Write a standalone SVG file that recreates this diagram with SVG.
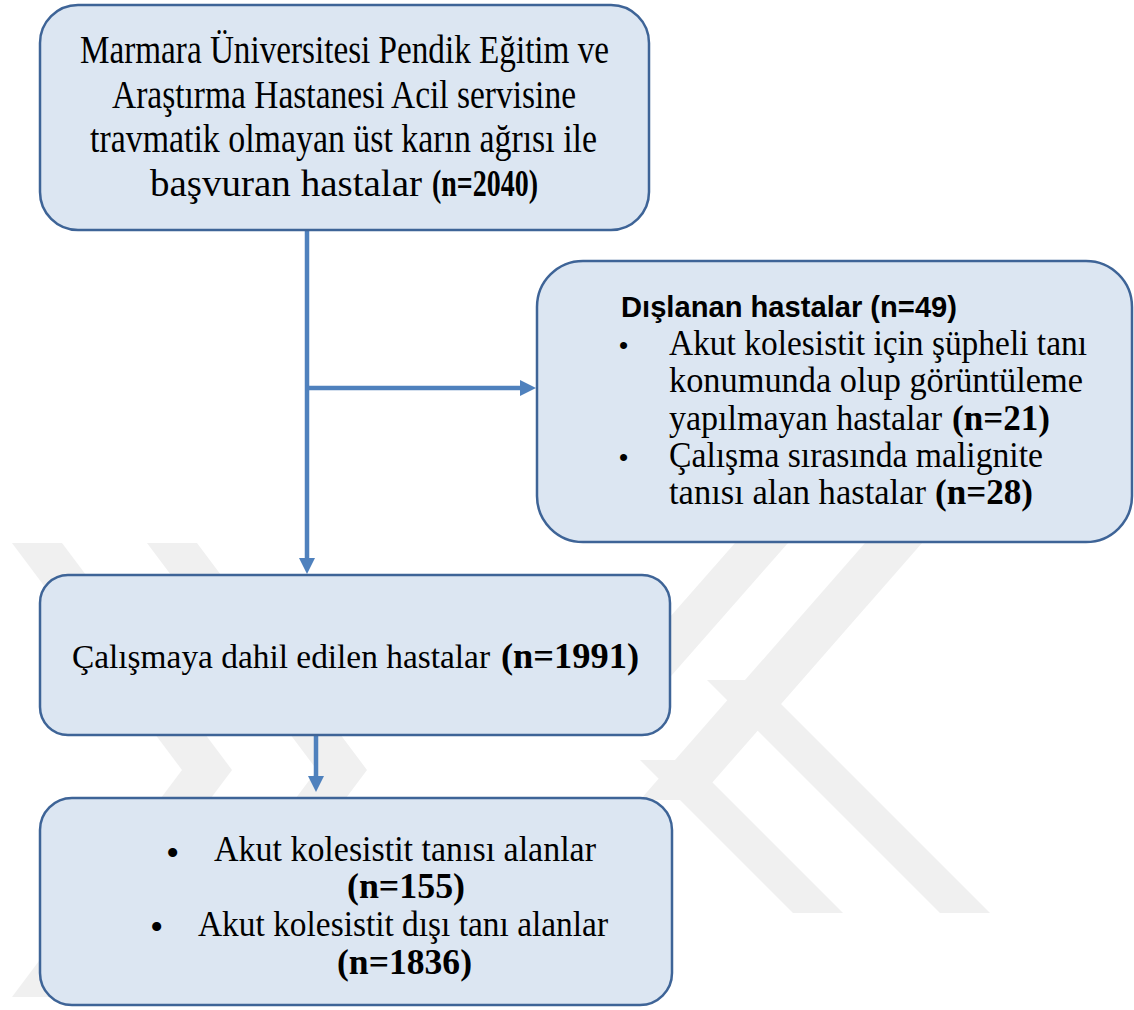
<svg xmlns="http://www.w3.org/2000/svg" width="1134" height="1010" viewBox="0 0 1134 1010">
  <style>
    .wm { fill: #f0f0f0; }
    .box { fill: #dce6f2; stroke: #3e6497; stroke-width: 2.5; }
    .conn { stroke: #4f81bd; stroke-width: 4.5; fill: none; }
    .serif { font-family: "Liberation Serif", "Times New Roman", serif; fill: #000; }
    .sans { font-family: "Liberation Sans", Arial, sans-serif; fill: #000; }
    .b { font-weight: bold; }
  </style>
  <defs>
    <marker id="arrow" markerUnits="userSpaceOnUse" markerWidth="16" markerHeight="16" refX="0" refY="8" orient="auto">
      <path d="M0,0 L16,8 L0,16 Z" fill="#4f81bd"/>
    </marker>
  </defs>
  <rect width="1134" height="1010" fill="#ffffff"/>

  <g id="watermark">
    <polygon class="wm" points="12,543 62,543 232,770 62,997 12,997 182,770"/>
    <polygon class="wm" points="147,543 197,543 367,770 197,997 147,997 317,770"/>
    <polygon class="wm" points="865,543 922,543 697,800 640,800"/>
    <polygon class="wm" points="735,543 788,543 650,700 597,700"/>
    <polygon class="wm" points="707,680 757,680 990,913 940,913"/>
    <polygon class="wm" points="640,760 690,760 843,913 793,913"/>
  </g>

  <g id="connectors">
    <line class="conn" x1="307" y1="230" x2="307" y2="558" marker-end="url(#arrow)"/>
    <line class="conn" x1="305" y1="388" x2="520" y2="388" marker-end="url(#arrow)"/>
    <line class="conn" x1="316" y1="735" x2="316" y2="776" marker-end="url(#arrow)"/>
  </g>

  <g id="node-start">
    <rect class="box" x="40" y="5" width="609" height="225" rx="38" ry="38"/>
    <text class="serif" font-size="40" x="80" y="63" textLength="529" lengthAdjust="spacingAndGlyphs">Marmara Üniversitesi Pendik Eğitim ve</text>
    <text class="serif" font-size="40" x="112" y="108" textLength="464" lengthAdjust="spacingAndGlyphs">Araştırma Hastanesi Acil servisine</text>
    <text class="serif" font-size="40" x="90" y="152" textLength="507" lengthAdjust="spacingAndGlyphs">travmatik olmayan üst karın ağrısı ile</text>
    <text class="serif" font-size="38" x="150" y="196" textLength="272" lengthAdjust="spacingAndGlyphs">başvuran hastalar</text>
    <text class="serif b" font-size="38" x="432" y="196" textLength="106" lengthAdjust="spacingAndGlyphs">(n=2040)</text>
  </g>

  <g id="node-excluded">
    <rect class="box" x="537" y="261" width="595" height="281" rx="46" ry="46"/>
    <text class="sans b" font-size="30" x="621" y="317" textLength="336" lengthAdjust="spacingAndGlyphs">Dışlanan hastalar (n=49)</text>
    <text class="sans" font-size="26" x="619" y="354">•</text>
    <text class="serif" font-size="36" x="669" y="355" textLength="418" lengthAdjust="spacingAndGlyphs">Akut kolesistit için şüpheli tanı</text>
    <text class="serif" font-size="36" x="669" y="392" textLength="414" lengthAdjust="spacingAndGlyphs">konumunda olup görüntüleme</text>
    <text class="serif" font-size="36" x="669" y="430" textLength="273" lengthAdjust="spacingAndGlyphs">yapılmayan hastalar</text>
    <text class="serif b" font-size="36" x="952" y="430" textLength="98" lengthAdjust="spacingAndGlyphs">(n=21)</text>
    <text class="sans" font-size="26" x="619" y="466">•</text>
    <text class="serif" font-size="36" x="669" y="467" textLength="374" lengthAdjust="spacingAndGlyphs">Çalışma sırasında malignite</text>
    <text class="serif" font-size="36" x="669" y="504" textLength="257" lengthAdjust="spacingAndGlyphs">tanısı alan hastalar</text>
    <text class="serif b" font-size="36" x="935" y="504" textLength="98" lengthAdjust="spacingAndGlyphs">(n=28)</text>
  </g>

  <g id="node-included">
    <rect class="box" x="40" y="575" width="630" height="160" rx="28" ry="28"/>
    <text class="serif" font-size="34" x="72" y="668" textLength="418" lengthAdjust="spacingAndGlyphs">Çalışmaya dahil edilen hastalar</text>
    <text class="serif b" font-size="36" x="501" y="668" textLength="138" lengthAdjust="spacingAndGlyphs">(n=1991)</text>
  </g>

  <g id="node-diagnosis">
    <rect class="box" x="40" y="798" width="632" height="207" rx="32" ry="32"/>
    <text class="serif" font-size="38" x="166" y="866">•</text>
    <text class="serif" font-size="35" x="214" y="861" textLength="382" lengthAdjust="spacingAndGlyphs">Akut kolesistit tanısı alanlar</text>
    <text class="serif b" font-size="35" x="347" y="898" textLength="118" lengthAdjust="spacingAndGlyphs">(n=155)</text>
    <text class="serif" font-size="38" x="150" y="940">•</text>
    <text class="serif" font-size="35" x="198" y="936" textLength="410" lengthAdjust="spacingAndGlyphs">Akut kolesistit dışı tanı alanlar</text>
    <text class="serif b" font-size="35" x="337" y="974" textLength="135" lengthAdjust="spacingAndGlyphs">(n=1836)</text>
  </g>
</svg>
